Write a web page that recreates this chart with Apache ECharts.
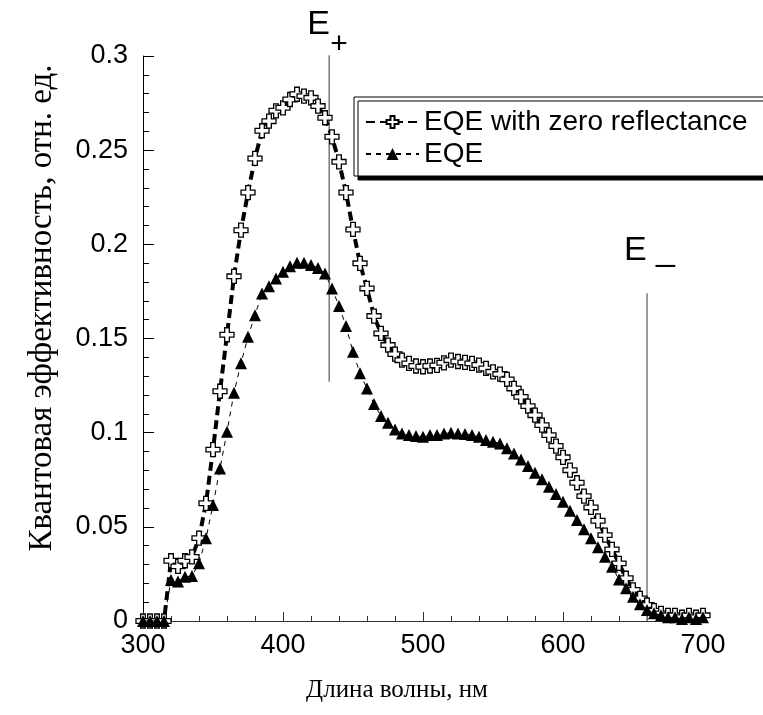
<!DOCTYPE html>
<html>
<head>
<meta charset="utf-8">
<script src="https://cdn.jsdelivr.net/npm/echarts@6/dist/echarts.min.js"></script>
<style>
  html, body { margin: 0; padding: 0; background: #fff; }
  #chart { width: 763px; height: 715px; }
</style>
</head>
<body>
<div id="chart"></div>
<script>
// Wavelength grid, nm
const wavelength = [
  300, 305, 310, 315, 320, 325, 330, 335, 340, 345, 350, 355, 360, 365, 370, 375, 380,
  385, 390, 395, 400, 405, 410, 415, 420, 425, 430, 435, 440, 445, 450, 455, 460,
  465, 470, 475, 480, 485, 490, 495, 500, 505, 510, 515, 520, 525, 530, 535, 540,
  545, 550, 555, 560, 565, 570, 575, 580, 585, 590, 595, 600, 605, 610, 615, 620,
  625, 630, 635, 640, 645, 650, 655, 660, 665, 670, 675, 680, 685, 690, 695, 700
];

// External quantum efficiency corrected for zero reflectance
const eqeZeroReflectance = [
  0, 0, 0, 0, 0.032, 0.029, 0.032, 0.034, 0.044, 0.0625, 0.091, 0.122, 0.152, 0.183, 0.2075, 0.2275, 0.2456,
  0.2603, 0.2654, 0.2709, 0.2725, 0.2769, 0.2797, 0.2787, 0.2778, 0.2734, 0.2672, 0.2571, 0.2438, 0.2275, 0.2079, 0.1899, 0.1766,
  0.1619, 0.1527, 0.1465, 0.1417, 0.1385, 0.1368, 0.1354, 0.135, 0.1354, 0.1357, 0.1371, 0.1385, 0.1378, 0.1373, 0.1368, 0.1359,
  0.1341, 0.1323, 0.1311, 0.1283, 0.1235, 0.119, 0.1141, 0.1093, 0.104, 0.0987, 0.0929, 0.0869, 0.0801, 0.0734, 0.0663, 0.0603,
  0.0532, 0.0456, 0.038, 0.0306, 0.0227, 0.0165, 0.012, 0.0085, 0.0055, 0.004, 0.003, 0.003, 0.002, 0.003, 0.002, 0.003
];

// Measured external quantum efficiency
const eqe = [
  0, 0, 0, 0, 0.0218, 0.021, 0.0235, 0.0239, 0.0306, 0.0439, 0.0616, 0.081, 0.1005, 0.1212, 0.1368, 0.1509, 0.1624,
  0.1739, 0.1778, 0.1819, 0.1854, 0.1884, 0.1902, 0.1902, 0.189, 0.1875, 0.1845, 0.1766, 0.1672, 0.1566, 0.1429, 0.1315, 0.1235,
  0.1152, 0.1088, 0.1053, 0.1017, 0.0996, 0.0987, 0.0982, 0.0978, 0.0987, 0.0987, 0.0996, 0.0999, 0.0996, 0.0993, 0.0987, 0.0978,
  0.0961, 0.0952, 0.0943, 0.0917, 0.089, 0.0858, 0.0823, 0.0787, 0.0752, 0.0713, 0.0674, 0.0633, 0.0585, 0.0536, 0.0487, 0.0439,
  0.0391, 0.0341, 0.0288, 0.0221, 0.0174, 0.0129, 0.0089, 0.0058, 0.0041, 0.003, 0.002, 0.002, 0.001, 0.002, 0.001, 0.002
];

const seriesNames = ['EQE with zero reflectance', 'EQE'];

// Band-edge markers: wavelength and vertical extent of each line
const edgeNames = ['E+', 'E−'];
const edgeWavelength = [433, 660];
const edgeBottom = [0.127, 0];
const edgeTop = [0.3016, 0.174];

const xTitle = 'Длина волны, нм';
const yTitle = 'Квантовая эффективность, отн. ед.';

const pairs = (ys) => wavelength.map((w, i) => [w, ys[i]]);
const plusPath = 'path://M4,0H8V4H12V8H8V12H4V8H0V4H4Z';

const chart = echarts.init(document.getElementById('chart'), null, { renderer: 'canvas' });

const sansFont = 'Liberation Sans, Arial, sans-serif';
const serifFont = 'Liberation Serif, Times New Roman, serif';

const edgeSeries = edgeWavelength.map((w, i) => ({
  name: edgeNames[i],
  type: 'line',
  data: [[w, edgeBottom[i]], [w, edgeTop[i]]],
  symbol: 'none',
  silent: true,
  lineStyle: { color: '#7a7a7a', width: 1.5 },
  z: 1
}));

chart.setOption({
  animation: false,
  backgroundColor: '#fff',
  grid: { left: 143, right: 60, top: 56, bottom: 94, containLabel: false },
  xAxis: {
    type: 'value', min: 300, max: 700, interval: 100,
    axisLine: { show: true, lineStyle: { color: '#333', width: 1 } },
    axisTick: { show: true, inside: true, length: 9, lineStyle: { color: '#333' } },
    minorTick: { show: true, splitNumber: 5, length: 5, lineStyle: { color: '#333' } },
    splitLine: { show: false },
    axisLabel: { fontSize: 27, color: '#000', fontFamily: sansFont, margin: 11 }
  },
  yAxis: {
    type: 'value', min: 0, max: 0.3, interval: 0.05,
    axisLine: { show: true, lineStyle: { color: '#000', width: 1 } },
    axisTick: { show: true, inside: true, length: 11, lineStyle: { color: '#000' } },
    minorTick: { show: true, splitNumber: 5, length: 6, lineStyle: { color: '#000' } },
    splitLine: { show: false },
    axisLabel: { fontSize: 27, color: '#000', fontFamily: sansFont, margin: 15 }
  },
  legend: {
    data: seriesNames,
    orient: 'vertical',
    left: 354, top: 97,
    padding: [11, 30, 8, 11],
    itemWidth: 53, itemHeight: 15, itemGap: 4,
    backgroundColor: '#fff',
    borderColor: '#000', borderWidth: 1,
    shadowColor: '#000', shadowBlur: 0, shadowOffsetX: 4, shadowOffsetY: 4,
    textStyle: { fontSize: 28, fontFamily: sansFont, color: '#000', lineHeight: 25 }
  },
  series: [
    ...edgeSeries,
    {
      name: seriesNames[0],
      type: 'line',
      data: pairs(eqeZeroReflectance),
      symbol: plusPath,
      symbolSize: 14,
      showAllSymbol: true,
      itemStyle: { color: '#fff', borderColor: '#000', borderWidth: 1.3 },
      lineStyle: { color: '#000', width: 4, type: [9, 5] },
      z: 2
    },
    {
      name: seriesNames[1],
      type: 'line',
      data: pairs(eqe),
      symbol: 'triangle',
      symbolSize: 12,
      showAllSymbol: true,
      itemStyle: { color: '#000', borderColor: '#000', borderWidth: 0 },
      lineStyle: { color: '#000', width: 1, type: [5, 5] },
      z: 3
    }
  ]
});

// Edge labels placed above the top end of each marker line
const topPlus = chart.convertToPixel({ gridIndex: 0 }, [edgeWavelength[0], edgeTop[0]]);
const topMinus = chart.convertToPixel({ gridIndex: 0 }, [edgeWavelength[1], edgeTop[1]]);

chart.setOption({
  graphic: [
    {
      type: 'text', left: topPlus[0] - 22, top: topPlus[1] - 45,
      style: { text: 'E', fontSize: 34, fontFamily: sansFont, fill: '#000' }
    },
    {
      type: 'text', left: topPlus[0] + 1, top: topPlus[1] - 23,
      style: { text: '+', fontSize: 30, fontFamily: sansFont, fill: '#000' }
    },
    {
      type: 'text', left: topMinus[0] - 23, top: topMinus[1] - 60,
      style: { text: 'E _', fontSize: 34, fontFamily: sansFont, fill: '#000' }
    },
    {
      type: 'text', x: 397, y: 690, style: {
        text: xTitle, fontSize: 25, fontFamily: serifFont, fill: '#000',
        align: 'center', verticalAlign: 'middle'
      }
    },
    {
      type: 'text', x: 42, y: 308, rotation: Math.PI / 2, style: {
        text: yTitle, fontSize: 33, fontFamily: serifFont, fill: '#000',
        align: 'center', verticalAlign: 'middle'
      }
    }
  ]
});
</script>
</body>
</html>
